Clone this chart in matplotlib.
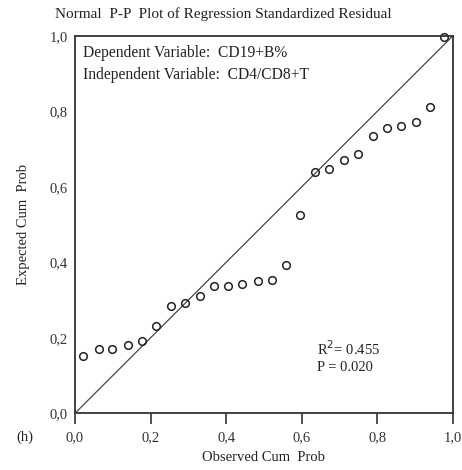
import matplotlib
matplotlib.use("Agg")
import matplotlib.pyplot as plt

# --- Data ---
observed = [0.022, 0.063, 0.099, 0.139, 0.178, 0.215, 0.254, 0.291, 0.330,
            0.367, 0.406, 0.443, 0.483, 0.520, 0.559, 0.596, 0.634, 0.671,
            0.711, 0.748, 0.788, 0.825, 0.863, 0.901, 0.939, 0.975]
expected = [0.153, 0.170, 0.170, 0.181, 0.191, 0.231, 0.285, 0.292, 0.310,
            0.336, 0.338, 0.342, 0.350, 0.352, 0.393, 0.525, 0.640, 0.648,
            0.670, 0.688, 0.734, 0.756, 0.762, 0.772, 0.810, 0.997]
ticks = [0.0, 0.2, 0.4, 0.6, 0.8, 1.0]
tick_labels = ["0,0", "0,2", "0,4", "0,6", "0,8", "1,0"]

plt.rcParams["font.family"] = ["Liberation Serif", "DejaVu Serif"]

fig = plt.figure(figsize=(4.62, 4.70), dpi=100)
ax = fig.add_axes([75 / 462, 1 - 413.3 / 470, 378 / 462, 377.6 / 470])

# reference line and points
ax.plot([0, 1], [0, 1], color="#444444", lw=0.9, zorder=1)
ax.plot(observed, expected, "o", ms=5.5, mfc="none", mec="#222222", mew=1.1,
        clip_on=False, zorder=2)

ax.set_xlim(0, 1)
ax.set_ylim(0, 1)
ax.set_xticks(ticks)
ax.set_xticklabels(tick_labels, fontsize=10.5)
ax.set_yticks(ticks)
ax.set_yticklabels(tick_labels, fontsize=10.5)
ax.tick_params(axis="x", direction="out", length=8, width=1.2, pad=5, colors="#333333")
ax.tick_params(axis="y", length=0, pad=5, colors="#333333")
for s in ax.spines.values():
    s.set_linewidth(1.3)
    s.set_color("#333333")

ax.set_xlabel("Observed Cum  Prob", fontsize=10.5, labelpad=5, color="#222222")
ax.set_ylabel("Expected Cum  Prob", fontsize=10.5, labelpad=14, color="#222222")
fig.text(223.5 / 462, 1 - 14 / 470, "Normal  P-P  Plot of Regression Standardized Residual",
         ha="center", va="center", fontsize=11, color="#222222")

ax.text(0.02, 0.955, "Dependent Variable:  CD19+B%", transform=ax.transAxes,
        fontsize=11.2, va="center", color="#222222")
ax.text(0.02, 0.897, "Independent Variable:  CD4/CD8+T", transform=ax.transAxes,
        fontsize=11.2, va="center", color="#222222")
ax.text(0.64, 0.172, "R$^{2}$= 0.455", transform=ax.transAxes,
        fontsize=10.5, va="center", color="#222222")
ax.text(0.64, 0.122, "P = 0.020", transform=ax.transAxes,
        fontsize=10.5, va="center", color="#222222")
fig.text(25 / 462, 1 - 437 / 470, "(h)", ha="center", va="center", fontsize=10.5,
         color="#222222")

fig.savefig("out.png", dpi=100)
